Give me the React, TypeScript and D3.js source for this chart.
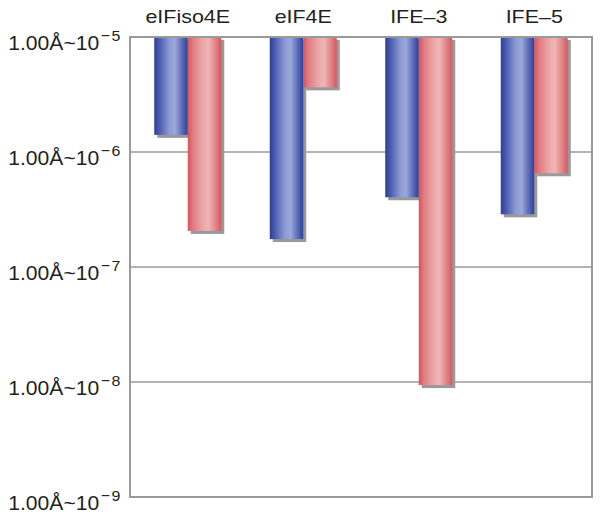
import { useEffect, useRef } from 'react';
import * as d3 from 'd3';

// categories and the two series (values hang down from 1e-5)
const categories = ['eIFiso4E', 'eIF4E', 'IFE\u20133', 'IFE\u20135'];
const blueValues = [1.41e-6, 1.75e-7, 4.04e-7, 2.87e-7];
const redValues = [2.06e-7, 3.65e-6, 9.4e-9, 6.53e-7];
const tickExponents = [-5, -6, -7, -8, -9];
const seriesKeys = ['blue', 'red'];

const FONT = "'Liberation Sans', Arial, Helvetica, sans-serif";

export default function App() {
  const svgRef = useRef<SVGSVGElement>(null);

  useEffect(() => {
    const svg = d3.select(svgRef.current);
    svg.selectAll('*').remove();

    const width = 602;
    const height = 518;
    const margin = { top: 37, right: 10, bottom: 21, left: 130 };
    const x0 = margin.left;
    const x1 = width - margin.right;
    const y0 = margin.top;
    const y1 = height - margin.bottom;

    const y = d3.scaleLog().domain([1e-9, 1e-5]).range([y1, y0]);
    const x = d3.scaleBand<string>()
      .domain(categories)
      .range([x0, x1])
      .paddingInner(0.42)
      .paddingOuter(0.21);
    const xs = d3.scaleBand<string>()
      .domain(seriesKeys)
      .range([0, x.bandwidth()]);

    // gradients (cylinder look)
    const defs = svg.append('defs');
    const grads: Record<string, [number, string][]> = {
      blue: [[0, '#2c3d95'], [0.15, '#4a5bb0'], [0.45, '#8d9bd3'], [0.62, '#9ca8da'], [0.85, '#5566b6'], [1, '#2e4098']],
      red: [[0, '#d6525a'], [0.15, '#e07b80'], [0.45, '#eba8aa'], [0.62, '#efb5b5'], [0.85, '#e07f82'], [1, '#d4585c']],
    };
    Object.entries(grads).forEach(([key, stops]) => {
      const g = defs.append('linearGradient')
        .attr('id', `grad-${key}`)
        .attr('x1', '0%').attr('x2', '100%')
        .attr('y1', '0%').attr('y2', '0%');
      stops.forEach(([o, c]) => g.append('stop').attr('offset', o).attr('stop-color', c));
    });

    // plot background
    svg.append('rect')
      .attr('x', x0).attr('y', y0)
      .attr('width', x1 - x0).attr('height', y1 - y0)
      .attr('fill', '#fff');

    // gridlines
    const ticks = tickExponents.map(e => Math.pow(10, e));
    svg.append('g')
      .selectAll('line')
      .data(ticks.slice(1, -1))
      .enter()
      .append('line')
      .attr('x1', x0).attr('x2', x1)
      .attr('y1', d => y(d)).attr('y2', d => y(d))
      .attr('stroke', '#9a9a9a')
      .attr('stroke-width', 1.5);

    // bars
    const data = categories.map((c, i) => ({ cat: c, blue: blueValues[i], red: redValues[i] }));
    const groups = svg.append('g')
      .selectAll('g')
      .data(data)
      .enter()
      .append('g')
      .attr('transform', d => `translate(${x(d.cat)},0)`);

    seriesKeys.forEach(key => {
      groups.append('rect')
        .attr('x', (xs(key) as number) + 3)
        .attr('y', y(1e-5) + 3)
        .attr('width', xs.bandwidth())
        .attr('height', d => y((d as any)[key]) - y(1e-5))
        .attr('fill', '#999999');
      groups.append('rect')
        .attr('x', xs(key) as number)
        .attr('y', y(1e-5))
        .attr('width', xs.bandwidth())
        .attr('height', d => y((d as any)[key]) - y(1e-5))
        .attr('fill', `url(#grad-${key})`);
    });

    // plot border
    svg.append('rect')
      .attr('x', x0).attr('y', y0)
      .attr('width', x1 - x0).attr('height', y1 - y0)
      .attr('fill', 'none')
      .attr('stroke', '#9a9a9a')
      .attr('stroke-width', 2);

    // category labels (the source type is set wide)
    svg.append('g')
      .selectAll('text')
      .data(categories)
      .enter()
      .append('text')
      .attr('transform', d => `translate(${(x(d) as number) + x.bandwidth() / 2},23) scale(1.16,1)`)
      .attr('text-anchor', 'middle')
      .style('font-family', FONT)
      .style('font-size', '18.5px')
      .style('fill', '#231f20')
      .text(d => d);

    // y tick labels
    const labels = svg.append('g')
      .selectAll('text')
      .data(tickExponents)
      .enter()
      .append('text')
      .attr('transform', d => `translate(122,${y(Math.pow(10, d)) + 12.5}) scale(1.03,1)`)
      .attr('text-anchor', 'end')
      .style('font-family', FONT)
      .style('font-size', '20.5px')
      .style('fill', '#231f20');
    labels.append('tspan').text('1.00\u00c5~10');
    labels.append('tspan')
      .attr('dy', -8.5)
      .attr('dx', 1.5)
      .style('font-size', '15.5px')
      .style('letter-spacing', '1.5px')
      .text(d => `\u2212${Math.abs(d)}`);
  }, []);

  return (
    <svg
      ref={svgRef}
      width={602}
      height={518}
      style={{ position: 'absolute', left: 0, top: 0, background: '#fff' }}
    />
  );
}
